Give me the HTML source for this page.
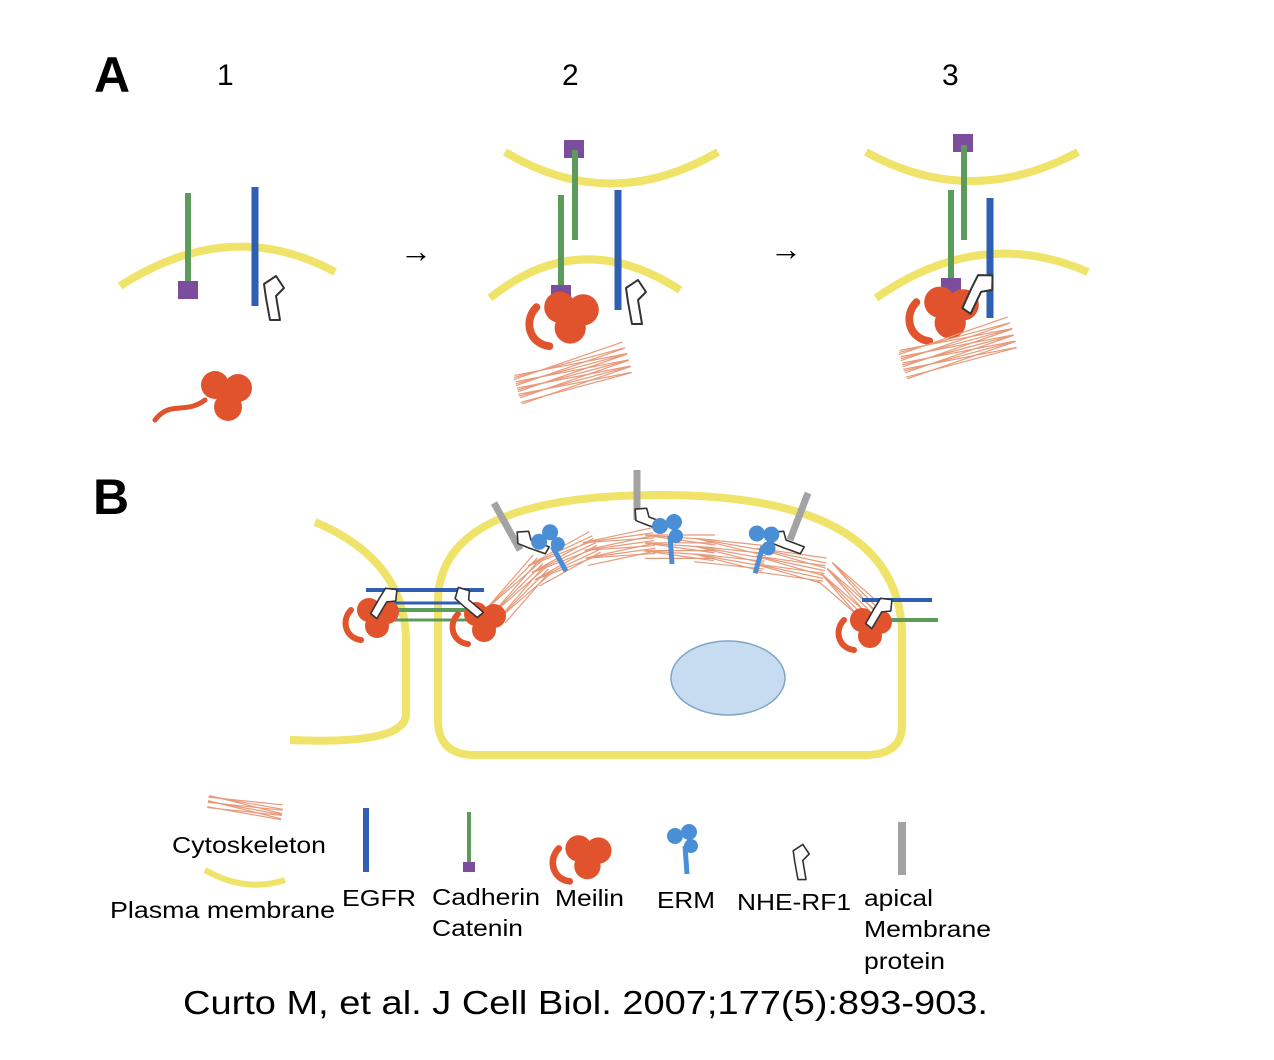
<!DOCTYPE html>
<html><head><meta charset="utf-8">
<style>
html,body{margin:0;padding:0;background:#fff;}
svg{display:block;font-family:"Liberation Sans",sans-serif;}
</style></head>
<body>
<svg width="1274" height="1060" viewBox="0 0 1274 1060">
<defs>
  <g id="merlin">
    <path d="M-22,-6 C-32,4 -28,22 -12,24" fill="none" stroke="#e0532c" stroke-width="6" stroke-linecap="round"/>
    <circle cx="-4" cy="-6" r="12" fill="#e0532c"/>
    <circle cx="14" cy="-4" r="12" fill="#e0532c"/>
    <circle cx="4" cy="10" r="12" fill="#e0532c"/>
  </g>
  <g id="nhe">
    <path d="M-6,-14 L6,-22 L14,-10 L6,-2 L10,22 L0,22 L-4,0 Z" fill="#fff" stroke="#333" stroke-width="2" stroke-linejoin="round"/>
  </g>
  <g id="erm">
    <circle cx="-8" cy="-4" r="8" fill="#4a8fd6"/>
    <circle cx="6" cy="-8" r="8" fill="#4a8fd6"/>
    <circle cx="8" cy="6" r="7" fill="#4a8fd6"/>
    <line x1="2" y1="6" x2="4" y2="34" stroke="#4a8fd6" stroke-width="5"/>
  </g>
</defs>

<text x="94" y="92" font-size="50" font-weight="bold">A</text>
<text x="217" y="85" font-size="30">1</text>
<text x="562" y="85" font-size="30">2</text>
<text x="942" y="85" font-size="30">3</text>
<text x="400" y="262" font-size="32">→</text>
<text x="770" y="260" font-size="32">→</text>

<g>
  <path d="M120,286 Q230,215 335,272" fill="none" stroke="#f0e36a" stroke-width="8"/>
  <line x1="188" y1="193" x2="188" y2="290" stroke="#5c9b5a" stroke-width="6"/>
  <rect x="178" y="281" width="20" height="18" fill="#7b4d9c"/>
  <line x1="255" y1="187" x2="255" y2="306" stroke="#2e5fb2" stroke-width="7"/>
  <use href="#nhe" x="270" y="298"/>
  <g>
    <path d="M155,420 C170,400 185,415 205,400" fill="none" stroke="#e0532c" stroke-width="5" stroke-linecap="round"/>
    <circle cx="215" cy="385" r="14" fill="#e0532c"/><circle cx="238" cy="388" r="14" fill="#e0532c"/><circle cx="228" cy="407" r="14" fill="#e0532c"/>
  </g>
</g>

<g>
  <path d="M505,152 Q610,215 718,152" fill="none" stroke="#f0e36a" stroke-width="8"/>
  <path d="M490,298 Q580,225 680,290" fill="none" stroke="#f0e36a" stroke-width="8"/>
  <rect x="564" y="140" width="20" height="18" fill="#7b4d9c"/>
  <line x1="575" y1="150" x2="575" y2="240" stroke="#5c9b5a" stroke-width="6"/>
  <line x1="561" y1="195" x2="561" y2="295" stroke="#5c9b5a" stroke-width="6"/>
  <rect x="551" y="285" width="20" height="16" fill="#7b4d9c"/>
  <line x1="618" y1="190" x2="618" y2="310" stroke="#2e5fb2" stroke-width="7"/>
  <use href="#nhe" x="632" y="302"/>
  <g transform="translate(565,315) scale(1.3)"><use href="#merlin"/></g>
  <g id="cyto2"></g>
</g>

<g>
  <path d="M866,152 Q970,210 1078,152" fill="none" stroke="#f0e36a" stroke-width="8"/>
  <path d="M876,298 Q980,225 1088,272" fill="none" stroke="#f0e36a" stroke-width="8"/>
  <rect x="953" y="134" width="20" height="18" fill="#7b4d9c"/>
  <line x1="964" y1="145" x2="964" y2="240" stroke="#5c9b5a" stroke-width="6"/>
  <line x1="951" y1="190" x2="951" y2="285" stroke="#5c9b5a" stroke-width="6"/>
  <rect x="941" y="278" width="20" height="16" fill="#7b4d9c"/>
  <line x1="990" y1="198" x2="990" y2="318" stroke="#2e5fb2" stroke-width="7"/>
  <g transform="translate(945,310) scale(1.3)"><use href="#merlin"/></g>
  <g transform="translate(975,290) rotate(35)"><use href="#nhe"/></g>
  <g id="cyto3"></g>
</g>

<text x="93" y="514" font-size="50" font-weight="bold">B</text>
<path d="M315,522 Q405,560 406,640 L406,715 Q404,745 290,740" fill="none" stroke="#f0e36a" stroke-width="8"/>
<path d="M438,600 Q440,495 660,495 Q895,495 902,630 L902,725 Q902,755 865,755 L475,755 Q438,755 438,720 Z" fill="none" stroke="#f0e36a" stroke-width="8"/>
<ellipse cx="728" cy="678" rx="57" ry="37" fill="#c7dcf1" stroke="#7fa6c8" stroke-width="1.5"/>
<g id="cytoB"></g>

<g>
  <path d="M494,503 L520,550" stroke="#a3a3a3" stroke-width="7" fill="none"/>
  <line x1="637" y1="470" x2="637" y2="520" stroke="#a3a3a3" stroke-width="7"/>
  <path d="M808,493 L790,540" stroke="#a3a3a3" stroke-width="7" fill="none"/>
  <g transform="translate(530,545) rotate(-60) scale(0.8)"><use href="#nhe"/></g>
  <g transform="translate(648,522) rotate(-60) scale(0.8)"><use href="#nhe"/></g>
  <g transform="translate(785,545) rotate(-60) scale(0.8)"><use href="#nhe"/></g>
  <g transform="translate(548,542) rotate(-25)"><use href="#erm"/></g>
  <g transform="translate(668,530)"><use href="#erm"/></g>
  <g transform="translate(763,540) rotate(20)"><use href="#erm"/></g>
</g>

<g>
  <line x1="366" y1="590" x2="484" y2="590" stroke="#2e5fb2" stroke-width="4"/>
  <line x1="385" y1="603" x2="470" y2="603" stroke="#2e5fb2" stroke-width="3"/>
  <line x1="376" y1="610" x2="478" y2="610" stroke="#5c9b5a" stroke-width="4"/>
  <line x1="385" y1="620" x2="478" y2="620" stroke="#5c9b5a" stroke-width="3"/>
  <line x1="862" y1="600" x2="932" y2="600" stroke="#2e5fb2" stroke-width="4"/>
  <line x1="862" y1="620" x2="938" y2="620" stroke="#5c9b5a" stroke-width="4"/>
  <use href="#merlin" x="373" y="616"/>
  <use href="#merlin" x="480" y="620"/>
  <use href="#merlin" x="866" y="626"/>
  <g transform="translate(382,600) rotate(40) scale(0.8)"><use href="#nhe"/></g>
  <g transform="translate(466,604) rotate(-40) scale(0.8)"><use href="#nhe"/></g>
  <g transform="translate(877,610) rotate(40) scale(0.8)"><use href="#nhe"/></g>
</g>

<g>
  <g id="cytoLeg"></g>
  <text x="172" y="853" font-size="23" textLength="154" lengthAdjust="spacingAndGlyphs">Cytoskeleton</text>
  <path d="M205,870 Q245,893 285,880" fill="none" stroke="#f0e36a" stroke-width="6"/>
  <text x="110" y="918" font-size="23" textLength="225" lengthAdjust="spacingAndGlyphs">Plasma membrane</text>
  <line x1="366" y1="808" x2="366" y2="872" stroke="#2e5fb2" stroke-width="6"/>
  <text x="342" y="906" font-size="23" textLength="74" lengthAdjust="spacingAndGlyphs">EGFR</text>
  <line x1="469" y1="812" x2="469" y2="862" stroke="#5c9b5a" stroke-width="4"/>
  <rect x="463" y="862" width="12" height="10" fill="#7b4d9c"/>
  <text x="432" y="905" font-size="23" textLength="108" lengthAdjust="spacingAndGlyphs">Cadherin</text>
  <text x="432" y="936" font-size="23" textLength="91" lengthAdjust="spacingAndGlyphs">Catenin</text>
  <g transform="translate(583,855) scale(1.1)"><use href="#merlin"/></g>
  <text x="555" y="906" font-size="23" textLength="69" lengthAdjust="spacingAndGlyphs">Meilin</text>
  <g transform="translate(683,840)"><use href="#erm"/></g>
  <text x="657" y="908" font-size="23" textLength="58" lengthAdjust="spacingAndGlyphs">ERM</text>
  <g transform="translate(798,862) scale(0.8)"><use href="#nhe"/></g>
  <text x="737" y="910" font-size="23" textLength="114" lengthAdjust="spacingAndGlyphs">NHE-RF1</text>
  <line x1="902" y1="822" x2="902" y2="875" stroke="#a3a3a3" stroke-width="8"/>
  <text x="864" y="906" font-size="23" textLength="69" lengthAdjust="spacingAndGlyphs">apical</text>
  <text x="864" y="937" font-size="23" textLength="127" lengthAdjust="spacingAndGlyphs">Membrane</text>
  <text x="864" y="969" font-size="23" textLength="81" lengthAdjust="spacingAndGlyphs">protein</text>
</g>
<text x="183" y="1014" font-size="33" textLength="805" lengthAdjust="spacingAndGlyphs">Curto M, et al. J Cell Biol. 2007;177(5):893-903.</text>
</svg>
<script>
function fibres(gid, cx, cy, len, ang, n, spread){
  var g=document.getElementById(gid);
  for(var i=0;i<n;i++){
    var p=document.createElementNS('http://www.w3.org/2000/svg','line');
    
    
    var off=(i-n/2)*spread/n, a=(ang+((i%3)-1)*4)*Math.PI/180;
    var ox=-Math.sin(a)*off, oy=Math.cos(a)*off;
    p.setAttribute('x1',cx+ox-Math.cos(a)*len/2);p.setAttribute('y1',cy+oy-Math.sin(a)*len/2);
    p.setAttribute('x2',cx+ox+Math.cos(a)*len/2);p.setAttribute('y2',cy+oy+Math.sin(a)*len/2);
    p.setAttribute('stroke','#e79a7a');p.setAttribute('stroke-width','1.2');
    g.appendChild(p);
  }
}
fibres('cyto2',573,375,115,-15,14,30);
fibres('cyto3',958,350,115,-15,14,30);
fibres('cytoLeg',245,808,75,10,8,14);
var segs=[[520,590,-45],[565,560,-25],[620,548,-8],[680,548,4],[730,555,10],[790,566,12],[850,595,45]];
segs.forEach(function(s){fibres('cytoB',s[0],s[1],70,s[2],10,26);});
</script>
</body></html>
